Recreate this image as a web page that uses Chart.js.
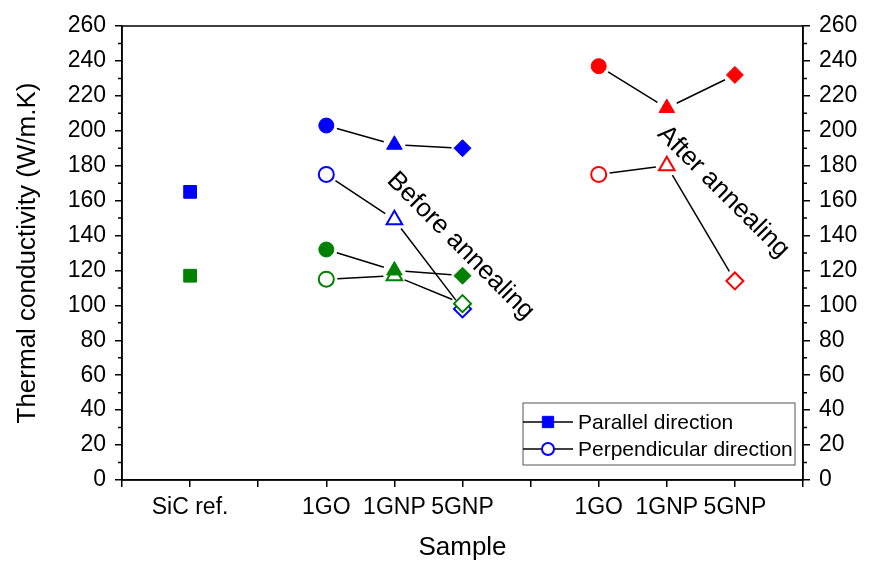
<!DOCTYPE html>
<html>
<head>
<meta charset="utf-8">
<script src="https://cdn.jsdelivr.net/npm/chart.js@4"></script>
<style>
  body { margin: 0; background: #fff; }
</style>
</head>
<body>
<canvas id="c" width="872" height="562"></canvas>
<script>
// tick labels of the sample axis (positions 0..10)
const xTickLabels = ['', 'SiC ref.', '', '1GO', '1GNP', '5GNP', '', '1GO', '1GNP', '5GNP', ''];
const beforeX = [3, 4, 5];
const afterX = [7, 8, 9];
const sicX = [1];
const markerShapes = ['circle', 'triangle', 'rectRot'];
const markerSizes = [7.5, 9, 8.5];

// thermal conductivity (W/m.K)
const sicBlue = [165];
const sicGreen = [117];
const blueParallel = [203, 192, 190];
const bluePerpendicular = [175, 149, 98];
const greenParallel = [132, 120, 117];
const greenPerpendicular = [115, 117, 101];
const redParallel = [237, 213, 232];
const redPerpendicular = [175, 180, 114];

const BLUE = '#0000ff', GREEN = '#008000', RED = '#ff0000';
const FONT = "'Liberation Sans', Arial, sans-serif";

function pts(xs, ys) {
    return xs.map((x, i) => ({ x: x, y: ys[i] }));
}

function series(xs, ys, color, filled) {
    return {
        data: pts(xs, ys),
        showLine: false,
        connect: true,
        pointStyle: markerShapes,
        pointRadius: markerSizes,
        pointBackgroundColor: filled ? color : '#ffffff',
        pointBorderColor: color,
        pointBorderWidth: filled ? 1 : 2
    };
}

// lower index is drawn on top
const datasets = [
    series(afterX, redParallel, RED, true),
    series(afterX, redPerpendicular, RED, false),
    series(beforeX, greenParallel, GREEN, true),
    series(beforeX, greenPerpendicular, GREEN, false),
    series(beforeX, blueParallel, BLUE, true),
    series(beforeX, bluePerpendicular, BLUE, false),
    { data: pts(sicX, sicBlue), showLine: false, pointStyle: 'rect', pointRadius: 9,
      pointBackgroundColor: BLUE, pointBorderColor: BLUE },
    { data: pts(sicX, sicGreen), showLine: false, pointStyle: 'rect', pointRadius: 9,
      pointBackgroundColor: GREEN, pointBorderColor: GREEN }
];

// black connecting lines with a small gap at each marker
const connectors = {
    id: 'connectors',
    beforeDatasetsDraw(chart) {
        const ctx = chart.ctx;
        const gap = 11;
        ctx.save();
        ctx.strokeStyle = '#000';
        ctx.lineWidth = 1.5;
        chart.data.datasets.forEach((ds, di) => {
            if (!ds.connect) return;
            const p = chart.getDatasetMeta(di).data;
            for (let i = 0; i < p.length - 1; i++) {
                const dx = p[i + 1].x - p[i].x, dy = p[i + 1].y - p[i].y;
                const len = Math.hypot(dx, dy);
                if (len <= 2 * gap) continue;
                const ux = dx / len, uy = dy / len;
                ctx.beginPath();
                ctx.moveTo(p[i].x + ux * gap, p[i].y + uy * gap);
                ctx.lineTo(p[i + 1].x - ux * gap, p[i + 1].y - uy * gap);
                ctx.stroke();
            }
        });
        ctx.restore();
    }
};

// closed frame, minor ticks, labels and the legend box
const decor = {
    id: 'decor',
    afterDraw(chart) {
        const ctx = chart.ctx;
        const a = chart.chartArea;
        const y = chart.scales.y;
        ctx.save();
        ctx.strokeStyle = '#000';
        ctx.lineWidth = 1.5;
        ctx.strokeRect(a.left, a.top, a.right - a.left, a.bottom - a.top);
        for (let v = 10; v < 260; v += 20) {
            const py = y.getPixelForValue(v);
            ctx.beginPath();
            ctx.moveTo(a.left - 4, py); ctx.lineTo(a.left, py);
            ctx.moveTo(a.right, py); ctx.lineTo(a.right + 4, py);
            ctx.stroke();
        }

        // rotated notes
        const x = chart.scales.x;
        ctx.fillStyle = '#000';
        ctx.font = '26px ' + FONT;
        ctx.textAlign = 'center';
        ctx.textBaseline = 'middle';
        [['Before annealing', 4.97, 134], ['After annealing', 8.83, 165]].forEach(n => {
            ctx.save();
            ctx.translate(x.getPixelForValue(n[1]), y.getPixelForValue(n[2]));
            ctx.rotate(Math.PI / 4);
            ctx.fillText(n[0], 0, 0);
            ctx.restore();
        });

        // legend
        const bx = a.right - 280, by = a.bottom - 77, bw = 272, bh = 62;
        ctx.strokeStyle = '#555';
        ctx.lineWidth = 1;
        ctx.strokeRect(bx, by, bw, bh);
        ctx.font = '21px ' + FONT;
        ctx.textAlign = 'left';
        const rows = [['Parallel direction', 'rect', true], ['Perpendicular direction', 'circle', false]];
        rows.forEach((r, i) => {
            const ry = by + 19 + i * 27;
            ctx.strokeStyle = '#000';
            ctx.lineWidth = 1.5;
            ctx.beginPath();
            ctx.moveTo(bx, ry); ctx.lineTo(bx + 50, ry);
            ctx.stroke();
            ctx.fillStyle = r[2] ? BLUE : '#fff';
            ctx.strokeStyle = BLUE;
            ctx.lineWidth = r[2] ? 1 : 2;
            Chart.helpers.drawPoint(ctx, { pointStyle: r[1], radius: r[2] ? 8 : 6, borderWidth: ctx.lineWidth }, bx + 25, ry);
            ctx.fillStyle = '#000';
            ctx.fillText(r[0], bx + 55, ry + 1);
        });
        ctx.restore();
    }
};

const axisGrid = {
    display: true,
    drawOnChartArea: false,
    drawTicks: true,
    tickLength: 7,
    color: '#000',
    lineWidth: 1.5
};

const yTicks = {
    stepSize: 20,
    color: '#000',
    padding: 9,
    font: { family: FONT, size: 23 }
};

new Chart(document.getElementById('c'), {
    type: 'scatter',
    data: { datasets: datasets },
    options: {
        responsive: false,
        animation: false,
        layout: { padding: { top: 26, left: 0, right: 0, bottom: 0 } },
        plugins: {
            legend: { display: false },
            tooltip: { enabled: false }
        },
        scales: {
            x: {
                type: 'linear',
                position: 'bottom',
                min: 0,
                max: 10,
                grid: axisGrid,
                border: { display: true, color: '#000', width: 1.5 },
                ticks: {
                    stepSize: 1,
                    autoSkip: false,
                    maxRotation: 0,
                    color: '#000',
                    padding: 7,
                    font: { family: FONT, size: 23 },
                    callback: v => xTickLabels[v]
                },
                title: {
                    display: true,
                    text: 'Sample',
                    color: '#000',
                    padding: { top: 0, bottom: 0 },
                    font: { family: FONT, size: 26, lineHeight: 1.1 }
                },
                afterFit: s => { s.height = 82; }
            },
            y: {
                position: 'left',
                min: 0,
                max: 260,
                grid: axisGrid,
                border: { display: true, color: '#000', width: 1.5 },
                ticks: yTicks,
                title: {
                    display: true,
                    text: 'Thermal conductivity (W/m.K)',
                    color: '#000',
                    padding: { top: 12, bottom: 0 },
                    font: { family: FONT, size: 26 }
                },
                afterFit: s => { s.width = 122; }
            },
            y2: {
                position: 'right',
                min: 0,
                max: 260,
                grid: axisGrid,
                border: { display: true, color: '#000', width: 1.5 },
                ticks: yTicks,
                afterFit: s => { s.width = 69; }
            }
        }
    },
    plugins: [connectors, decor]
});
</script>
</body>
</html>
